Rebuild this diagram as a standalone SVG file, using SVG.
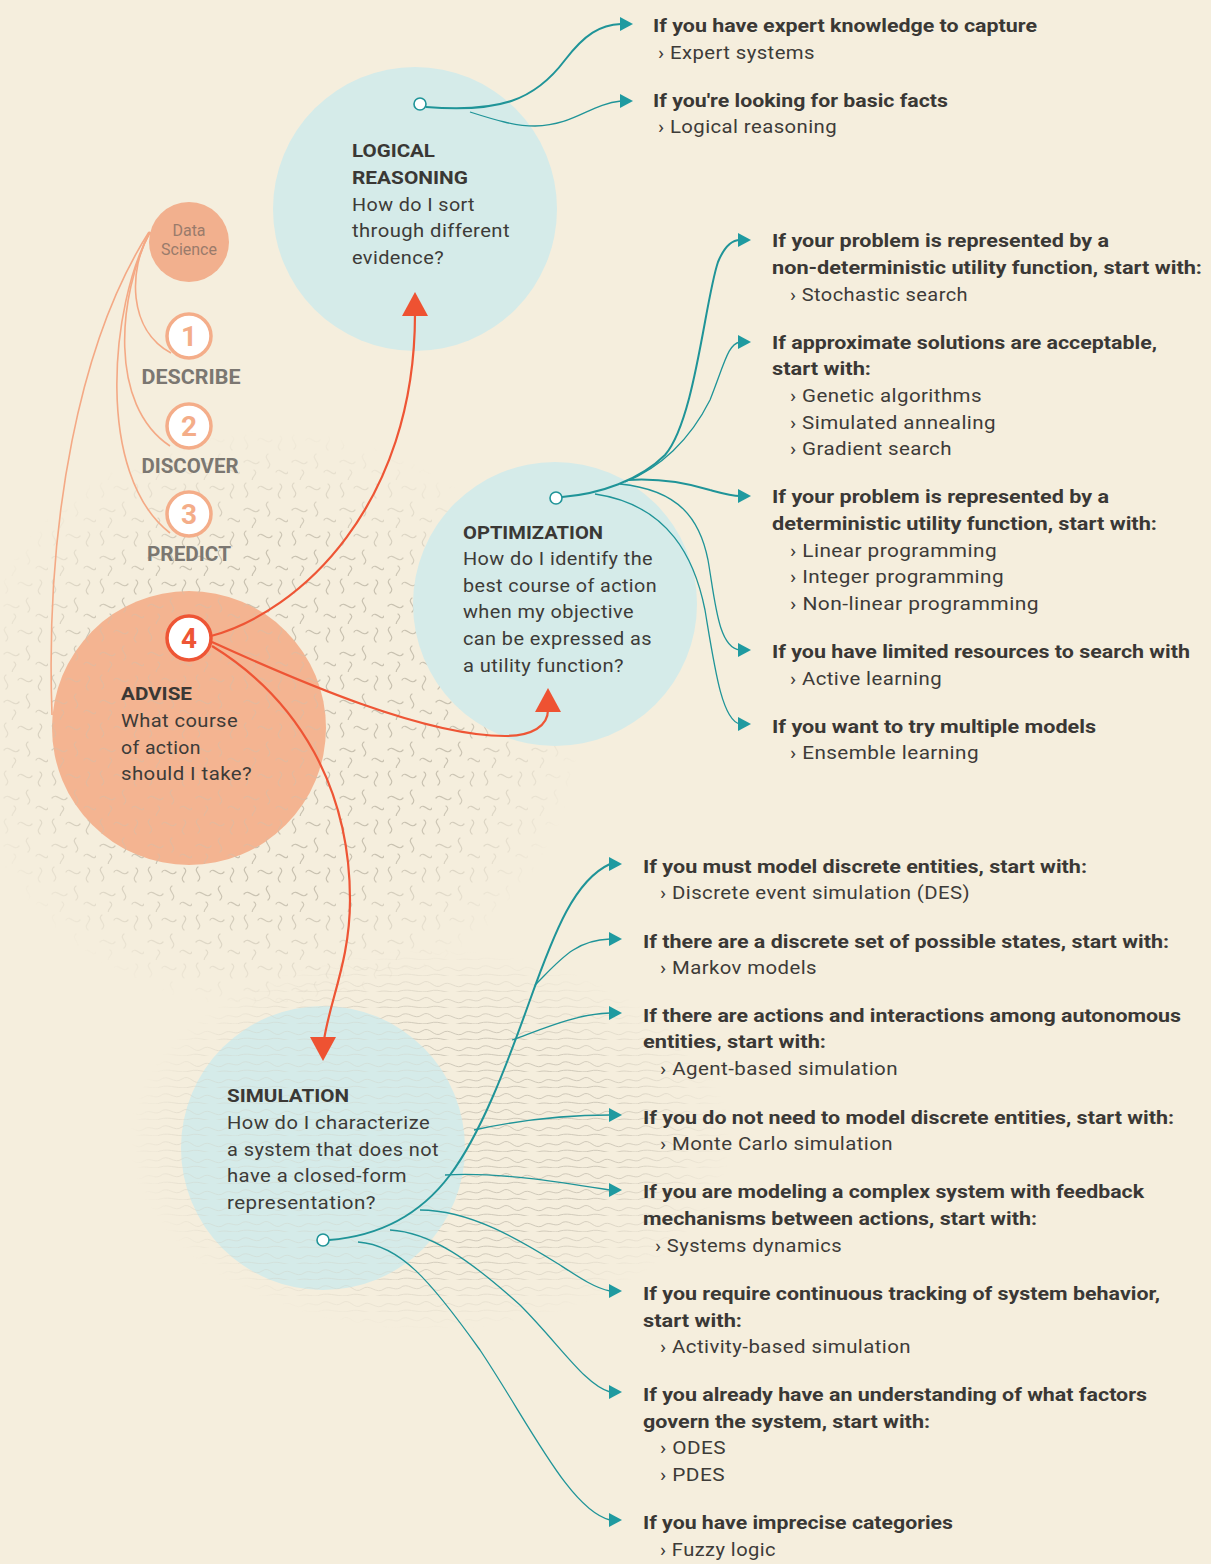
<svg xmlns="http://www.w3.org/2000/svg" xmlns:xlink="http://www.w3.org/1999/xlink" width="1211" height="1564" viewBox="0 0 1211 1564">
<style>
  text { font-family: Roboto, "Liberation Sans", sans-serif; font-size: 19px; }
  .b { font-weight: 700; fill: #3a3835; }
  .r { font-weight: 400; fill: #3d3b38; letter-spacing: 0.4px; }
  .stage { font-weight: 700; fill: #7b7771; font-size: 20px; text-anchor: middle; }
  .num { font-weight: 700; font-size: 28px; text-anchor: middle; }
  .blue { fill: #d5ebe9; }
  .teal { fill: none; stroke: #1f9498; stroke-width: 1.3; }
  .tealb { fill: none; stroke: #1f9498; stroke-width: 2; }
  .red { fill: none; stroke: #ee5535; stroke-width: 2.2; }
  .sal { fill: none; stroke: #f4a985; stroke-width: 1.6; }
  .node { fill: #ffffff; stroke: #1f9498; stroke-width: 1.6; }
  .ta { fill: #1f9aa0; }
  .ra { fill: #ee5232; }
</style>
<defs>
  <polygon id="ta" points="-13,-7 0,0 -13,7"/>
  <polygon id="raU" points="0,0 13,24 -13,24"/>
  <polygon id="raD" points="0,0 13,-24 -13,-24"/>
  <pattern id="squig" width="48" height="48" patternUnits="userSpaceOnUse">
    <path d="M6,3 c-6,4 6,9 0,14 M18,8 c4,-6 9,6 14,0 M40,4 c6,4 -6,9 0,14 M4,30 c5,-6 10,6 15,0 M28,22 c-6,4 6,9 0,14 M36,40 c4,-6 9,6 12,0 M14,38 c6,4 -6,8 0,12" fill="none" stroke="#c8c1b0" stroke-width="1.2" stroke-linecap="round"/>
  </pattern>
  <pattern id="topo" width="80" height="16" patternUnits="userSpaceOnUse">
    <path d="M0,8 c8,-7 14,5 22,-1 c8,-6 12,8 20,2 c8,-6 14,6 22,0 c6,-4 10,2 16,-1 M0,15 c10,-3 20,3 30,0 c10,-3 18,4 28,1 c8,-3 16,2 22,-1" fill="none" stroke="#cbc4b4" stroke-width="0.9"/>
  </pattern>
  <radialGradient id="fadeG">
    <stop offset="0.6" stop-color="#fff" stop-opacity="1"/>
    <stop offset="1" stop-color="#fff" stop-opacity="0"/>
  </radialGradient>
  <mask id="fade1"><ellipse cx="270" cy="720" rx="310" ry="290" fill="url(#fadeG)"/></mask>
  <mask id="fade2"><ellipse cx="430" cy="1140" rx="300" ry="190" fill="url(#fadeG)"/></mask>
</defs>

<rect width="1211" height="1564" fill="#f5eedd"/>
<g id="texture">
  <rect x="0" y="420" width="600" height="600" fill="url(#squig)" mask="url(#fade1)"/>
  <rect x="120" y="940" width="640" height="400" fill="url(#topo)" mask="url(#fade2)"/>
</g>

<g id="advise">
  <circle cx="189" cy="728" r="137" fill="#f4b491"/>
  <circle cx="189" cy="728" r="137" fill="url(#squig)" opacity="0.35"/>
  <text class="b" x="121" y="700" textLength="71" lengthAdjust="spacingAndGlyphs">ADVISE</text>
  <text class="r" x="121" y="727" textLength="117" lengthAdjust="spacingAndGlyphs">What course</text>
  <text class="r" x="121" y="754" textLength="80" lengthAdjust="spacingAndGlyphs">of action</text>
  <text class="r" x="121" y="780" textLength="131" lengthAdjust="spacingAndGlyphs">should I take?</text>
</g>

<g id="logical-reasoning">
  <circle class="blue" cx="415" cy="209" r="142"/>
  <text class="b" x="352" y="157" textLength="83" lengthAdjust="spacingAndGlyphs">LOGICAL</text>
  <text class="b" x="352" y="184" textLength="116" lengthAdjust="spacingAndGlyphs">REASONING</text>
  <text class="r" x="352" y="211" textLength="123" lengthAdjust="spacingAndGlyphs">How do I sort</text>
  <text class="r" x="352" y="237" textLength="158" lengthAdjust="spacingAndGlyphs">through different</text>
  <text class="r" x="352" y="264" textLength="92" lengthAdjust="spacingAndGlyphs">evidence?</text>
</g>

<g id="optimization">
  <circle class="blue" cx="555" cy="604" r="142"/>
  <text class="b" x="463" y="539" textLength="140" lengthAdjust="spacingAndGlyphs">OPTIMIZATION</text>
  <text class="r" x="463" y="565" textLength="190" lengthAdjust="spacingAndGlyphs">How do I identify the</text>
  <text class="r" x="463" y="592" textLength="194" lengthAdjust="spacingAndGlyphs">best course of action</text>
  <text class="r" x="463" y="618" textLength="171" lengthAdjust="spacingAndGlyphs">when my objective</text>
  <text class="r" x="463" y="645" textLength="189" lengthAdjust="spacingAndGlyphs">can be expressed as</text>
  <text class="r" x="463" y="672" textLength="161" lengthAdjust="spacingAndGlyphs">a utility function?</text>
</g>

<g id="simulation">
  <circle class="blue" cx="323" cy="1148" r="142"/>
  <circle cx="323" cy="1148" r="142" fill="url(#topo)" opacity="0.3"/>
  <text class="b" x="227" y="1102" textLength="122" lengthAdjust="spacingAndGlyphs">SIMULATION</text>
  <text class="r" x="227" y="1129" textLength="203" lengthAdjust="spacingAndGlyphs">How do I characterize</text>
  <text class="r" x="227" y="1156" textLength="212" lengthAdjust="spacingAndGlyphs">a system that does not</text>
  <text class="r" x="227" y="1182" textLength="180" lengthAdjust="spacingAndGlyphs">have a closed-form</text>
  <text class="r" x="227" y="1209" textLength="149" lengthAdjust="spacingAndGlyphs">representation?</text>
</g>

<g id="data-science">
  <circle cx="189" cy="242" r="40" fill="#f2b08e"/>
  <text x="189" y="236" text-anchor="middle" style="font-size:16px;fill:#9a7b6b">Data</text>
  <text x="189" y="255" text-anchor="middle" style="font-size:16px;fill:#9a7b6b">Science</text>
</g>

<g id="connectors">
  <path class="sal" d="M150,232 C128,270 128,330 171,353"/>
  <path class="sal" d="M150,232 C118,295 108,405 170,446"/>
  <path class="sal" d="M150,232 C110,305 95,475 170,533"/>
  <path class="sal" d="M149,232 C80,340 45,520 52,715"/>

  <path class="red" d="M211,636 C300,612 415,505 415,314"/>
  <path class="red" d="M212,642 C300,682 425,736 505,736 C532,736 548,726 548,710"/>
  <path class="red" d="M212,646 C300,700 350,790 350,900 C350,960 330,1000 324,1040"/>

  <path class="tealb" d="M426,107 C500,113 535,100 565,60 C585,34 600,25 621,24"/>
  <path class="teal" d="M470,112 C495,120 515,126 535,126 C575,125 590,104 621,101"/>

  <path class="tealb" d="M562,497 C600,494 640,480 665,455 C695,420 705,300 718,262 C725,245 732,240 740,240"/>
  <path class="teal" d="M625,482 C660,468 690,440 710,400 C725,362 728,344 740,342"/>
  <path class="tealb" d="M628,480 C660,478 690,484 710,490 C725,494 732,496 740,496"/>
  <path class="teal" d="M620,484 C680,490 700,520 708,560 C715,600 718,648 740,650"/>
  <path class="teal" d="M595,494 C670,505 695,560 705,610 C715,670 722,720 740,724"/>

  <path class="tealb" d="M329,1240 C380,1236 420,1215 450,1175 C480,1135 505,1070 530,1000 C555,930 575,880 610,864"/>
  <path class="teal" d="M535,985 C560,960 575,940 610,939"/>
  <path class="teal" d="M512,1040 C540,1030 575,1014 610,1013"/>
  <path class="teal" d="M474,1130 C520,1120 560,1115 610,1115"/>
  <path class="teal" d="M445,1175 C500,1172 560,1182 610,1190"/>
  <path class="teal" d="M420,1210 C470,1210 520,1240 560,1265 C580,1278 595,1288 610,1291"/>
  <path class="teal" d="M390,1230 C430,1232 470,1260 520,1305 C560,1345 585,1385 610,1392"/>
  <path class="teal" d="M358,1242 C400,1245 430,1280 480,1350 C530,1425 570,1510 610,1520"/>

  <use href="#ta" class="ta" x="633" y="24"/>
  <use href="#ta" class="ta" x="633" y="101"/>
  <use href="#ta" class="ta" x="751" y="240"/>
  <use href="#ta" class="ta" x="751" y="342"/>
  <use href="#ta" class="ta" x="751" y="496"/>
  <use href="#ta" class="ta" x="751" y="650"/>
  <use href="#ta" class="ta" x="751" y="724"/>
  <use href="#ta" class="ta" x="622" y="864"/>
  <use href="#ta" class="ta" x="622" y="939"/>
  <use href="#ta" class="ta" x="622" y="1013"/>
  <use href="#ta" class="ta" x="622" y="1115"/>
  <use href="#ta" class="ta" x="622" y="1190"/>
  <use href="#ta" class="ta" x="622" y="1291"/>
  <use href="#ta" class="ta" x="622" y="1392"/>
  <use href="#ta" class="ta" x="622" y="1520"/>

  <use href="#raU" class="ra" x="415" y="292"/>
  <use href="#raU" class="ra" x="548" y="688"/>
  <use href="#raD" class="ra" x="323" y="1061"/>

  <circle class="node" cx="420" cy="104" r="6"/>
  <circle class="node" cx="556" cy="498" r="6"/>
  <circle class="node" cx="323" cy="1240" r="6"/>
</g>

<g id="stage-1">
  <circle cx="189" cy="336" r="22" fill="#ffffff" stroke="#f4ad89" stroke-width="3.5"/>
  <text class="num" x="189" y="346" style="fill:#f4ad89">1</text>
  <text class="stage" x="191" y="384" textLength="99" lengthAdjust="spacingAndGlyphs">DESCRIBE</text>
</g>
<g id="stage-2">
  <circle cx="189" cy="426" r="22" fill="#ffffff" stroke="#f4ad89" stroke-width="3.5"/>
  <text class="num" x="189" y="436" style="fill:#f4ad89">2</text>
  <text class="stage" x="190" y="473" textLength="97" lengthAdjust="spacingAndGlyphs">DISCOVER</text>
</g>
<g id="stage-3">
  <circle cx="189" cy="514" r="22" fill="#ffffff" stroke="#f4ad89" stroke-width="3.5"/>
  <text class="num" x="189" y="524" style="fill:#f4ad89">3</text>
  <text class="stage" x="189" y="561" textLength="84" lengthAdjust="spacingAndGlyphs">PREDICT</text>
</g>
<g id="stage-4">
  <circle cx="189" cy="638" r="22" fill="#ffffff" stroke="#ee5535" stroke-width="3.5"/>
  <text class="num" x="189" y="648" style="fill:#ee5535">4</text>
</g>

<g id="logical-options">
  <text class="b" x="653" y="32" textLength="384" lengthAdjust="spacingAndGlyphs">If you have expert knowledge to capture</text>
  <text class="r" x="658" y="59" textLength="157" lengthAdjust="spacingAndGlyphs">› Expert systems</text>
  <text class="b" x="653" y="107" textLength="295" lengthAdjust="spacingAndGlyphs">If you're looking for basic facts</text>
  <text class="r" x="658" y="133" textLength="179" lengthAdjust="spacingAndGlyphs">› Logical reasoning</text>
</g>

<g id="optimization-options">
  <text class="b" x="772" y="247" textLength="337" lengthAdjust="spacingAndGlyphs">If your problem is represented by a</text>
  <text class="b" x="772" y="274" textLength="430" lengthAdjust="spacingAndGlyphs">non-deterministic utility function, start with:</text>
  <text class="r" x="790" y="301" textLength="178" lengthAdjust="spacingAndGlyphs">› Stochastic search</text>
  <text class="b" x="772" y="349" textLength="385" lengthAdjust="spacingAndGlyphs">If approximate solutions are acceptable,</text>
  <text class="b" x="772" y="375" textLength="99" lengthAdjust="spacingAndGlyphs">start with:</text>
  <text class="r" x="790" y="402" textLength="192" lengthAdjust="spacingAndGlyphs">› Genetic algorithms</text>
  <text class="r" x="790" y="429" textLength="206" lengthAdjust="spacingAndGlyphs">› Simulated annealing</text>
  <text class="r" x="790" y="455" textLength="162" lengthAdjust="spacingAndGlyphs">› Gradient search</text>
  <text class="b" x="772" y="503" textLength="337" lengthAdjust="spacingAndGlyphs">If your problem is represented by a</text>
  <text class="b" x="772" y="530" textLength="385" lengthAdjust="spacingAndGlyphs">deterministic utility function, start with:</text>
  <text class="r" x="790" y="557" textLength="207" lengthAdjust="spacingAndGlyphs">› Linear programming</text>
  <text class="r" x="790" y="583" textLength="214" lengthAdjust="spacingAndGlyphs">› Integer programming</text>
  <text class="r" x="790" y="610" textLength="249" lengthAdjust="spacingAndGlyphs">› Non-linear programming</text>
  <text class="b" x="772" y="658" textLength="418" lengthAdjust="spacingAndGlyphs">If you have limited resources to search with</text>
  <text class="r" x="790" y="685" textLength="152" lengthAdjust="spacingAndGlyphs">› Active learning</text>
  <text class="b" x="772" y="733" textLength="324" lengthAdjust="spacingAndGlyphs">If you want to try multiple models</text>
  <text class="r" x="790" y="759" textLength="189" lengthAdjust="spacingAndGlyphs">› Ensemble learning</text>
</g>

<g id="simulation-options">
  <text class="b" x="643" y="873" textLength="444" lengthAdjust="spacingAndGlyphs">If you must model discrete entities, start with:</text>
  <text class="r" x="660" y="899" textLength="310" lengthAdjust="spacingAndGlyphs">› Discrete event simulation (DES)</text>
  <text class="b" x="643" y="948" textLength="526" lengthAdjust="spacingAndGlyphs">If there are a discrete set of possible states, start with:</text>
  <text class="r" x="660" y="974" textLength="157" lengthAdjust="spacingAndGlyphs">› Markov models</text>
  <text class="b" x="643" y="1022" textLength="538" lengthAdjust="spacingAndGlyphs">If there are actions and interactions among autonomous</text>
  <text class="b" x="643" y="1048" textLength="183" lengthAdjust="spacingAndGlyphs">entities, start with:</text>
  <text class="r" x="660" y="1075" textLength="238" lengthAdjust="spacingAndGlyphs">› Agent-based simulation</text>
  <text class="b" x="643" y="1124" textLength="531" lengthAdjust="spacingAndGlyphs">If you do not need to model discrete entities, start with:</text>
  <text class="r" x="660" y="1150" textLength="233" lengthAdjust="spacingAndGlyphs">› Monte Carlo simulation</text>
  <text class="b" x="643" y="1198" textLength="501" lengthAdjust="spacingAndGlyphs">If you are modeling a complex system with feedback</text>
  <text class="b" x="643" y="1225" textLength="394" lengthAdjust="spacingAndGlyphs">mechanisms between actions, start with:</text>
  <text class="r" x="655" y="1252" textLength="187" lengthAdjust="spacingAndGlyphs">› Systems dynamics</text>
  <text class="b" x="643" y="1300" textLength="517" lengthAdjust="spacingAndGlyphs">If you require continuous tracking of system behavior,</text>
  <text class="b" x="643" y="1327" textLength="99" lengthAdjust="spacingAndGlyphs">start with:</text>
  <text class="r" x="660" y="1353" textLength="251" lengthAdjust="spacingAndGlyphs">› Activity-based simulation</text>
  <text class="b" x="643" y="1401" textLength="504" lengthAdjust="spacingAndGlyphs">If you already have an understanding of what factors</text>
  <text class="b" x="643" y="1428" textLength="287" lengthAdjust="spacingAndGlyphs">govern the system, start with:</text>
  <text class="r" x="660" y="1454" textLength="66" lengthAdjust="spacingAndGlyphs">› ODES</text>
  <text class="r" x="660" y="1481" textLength="65" lengthAdjust="spacingAndGlyphs">› PDES</text>
  <text class="b" x="643" y="1529" textLength="310" lengthAdjust="spacingAndGlyphs">If you have imprecise categories</text>
  <text class="r" x="660" y="1556" textLength="116" lengthAdjust="spacingAndGlyphs">› Fuzzy logic</text>
</g>
</svg>
